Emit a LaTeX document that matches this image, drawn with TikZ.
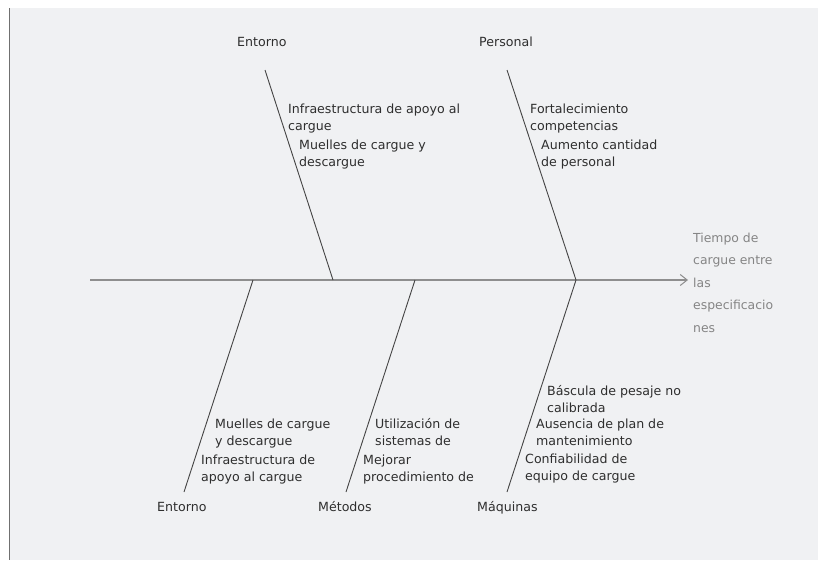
\documentclass[tikz,border=0pt]{standalone}
\usepackage{fontspec}
\setmainfont{DejaVu Sans}
\usetikzlibrary{arrows.meta}
\definecolor{bgc}{HTML}{F0F1F3}
\definecolor{txt}{HTML}{2E2E2E}
\definecolor{headtxt}{HTML}{858585}
\definecolor{bonec}{HTML}{444444}
\definecolor{spinec}{HTML}{8E8E8E}
\definecolor{borderc}{HTML}{707070}
\begin{document}
\begin{tikzpicture}[x=1pt,y=-1pt,
  cause/.style={font=\fontsize{12.6}{17}\selectfont, text=txt, inner sep=0pt, anchor=base west, align=left},
  cat/.style={font=\fontsize{12.6}{17}\selectfont, text=txt, inner sep=0pt, anchor=base west},
  effect/.style={font=\fontsize{12.4}{22.5}\selectfont, text=headtxt, inner sep=0pt, anchor=base west, align=left},
  bone/.style={draw=bonec, line width=0.9pt},
  spine/.style={draw=spinec, line width=1.1pt, -{Straight Barb[length=7pt,width=11pt,line width=1pt]}}]
\useasboundingbox (0,0) rectangle (818,560);
\fill[white] (0,0) rectangle (818,560);
\fill[bgc] (9,8) rectangle (818,560);
\draw[borderc, line width=1.8pt] (9.5,8) -- (9.5,560);

% spine
\coordinate (tail) at (90,280);
\coordinate (tip) at (688,280);
\draw[spine] (tail) -- (tip);
\node[effect] (effect) at (693,332) {Tiempo de\\cargue entre\\las\\especificacio\\nes};

% junctions on spine
\coordinate (jE1) at (333,280);
\coordinate (jP) at (576,280);
\coordinate (jE2) at (253,280);
\coordinate (jM) at (415,280);
\coordinate (jQ) at (576,280);

% bone ends
\coordinate (tE1) at (265,70);
\coordinate (tP) at (507,70);
\coordinate (tE2) at (184,492);
\coordinate (tM) at (346,492);
\coordinate (tQ) at (507,492);

\draw[bone] (tE1) -- (jE1);
\draw[bone] (tP) -- (jP);
\draw[bone] (tE2) -- (jE2);
\draw[bone] (tM) -- (jM);
\draw[bone] (tQ) -- (jQ);

% category labels
\node[cat] (catE1) at (237,46) {Entorno};
\node[cat] (catP) at (479,46) {Personal};
\node[cat] (catE2) at (157,511) {Entorno};
\node[cat] (catM) at (318,511) {Métodos};
\node[cat] (catQ) at (477,511) {Máquinas};

% causes - upper Entorno
\node[cause] (e1a) at (288,130) {Infraestructura de apoyo al\\cargue};
\node[cause] (e1b) at (299,166) {Muelles de cargue y\\descargue};
% Personal
\node[cause] (pa) at (530,130) {Fortalecimiento\\competencias};
\node[cause] (pb) at (541,166) {Aumento cantidad\\de personal};
% lower Entorno
\node[cause] (e2a) at (215,445) {Muelles de cargue\\y descargue};
\node[cause] (e2b) at (201,481) {Infraestructura de\\apoyo al cargue};
% Métodos
\node[cause] (ma) at (375,445) {Utilización de\\sistemas de};
\node[cause] (mb) at (363,481) {Mejorar\\procedimiento de};
% Máquinas
\node[cause] (qa) at (547,412) {Báscula de pesaje no\\calibrada};
\node[cause] (qb) at (536,445) {Ausencia de plan de\\mantenimiento};
\node[cause] (qc) at (525,480) {Confiabilidad de\\equipo de cargue};
\end{tikzpicture}
\end{document}
